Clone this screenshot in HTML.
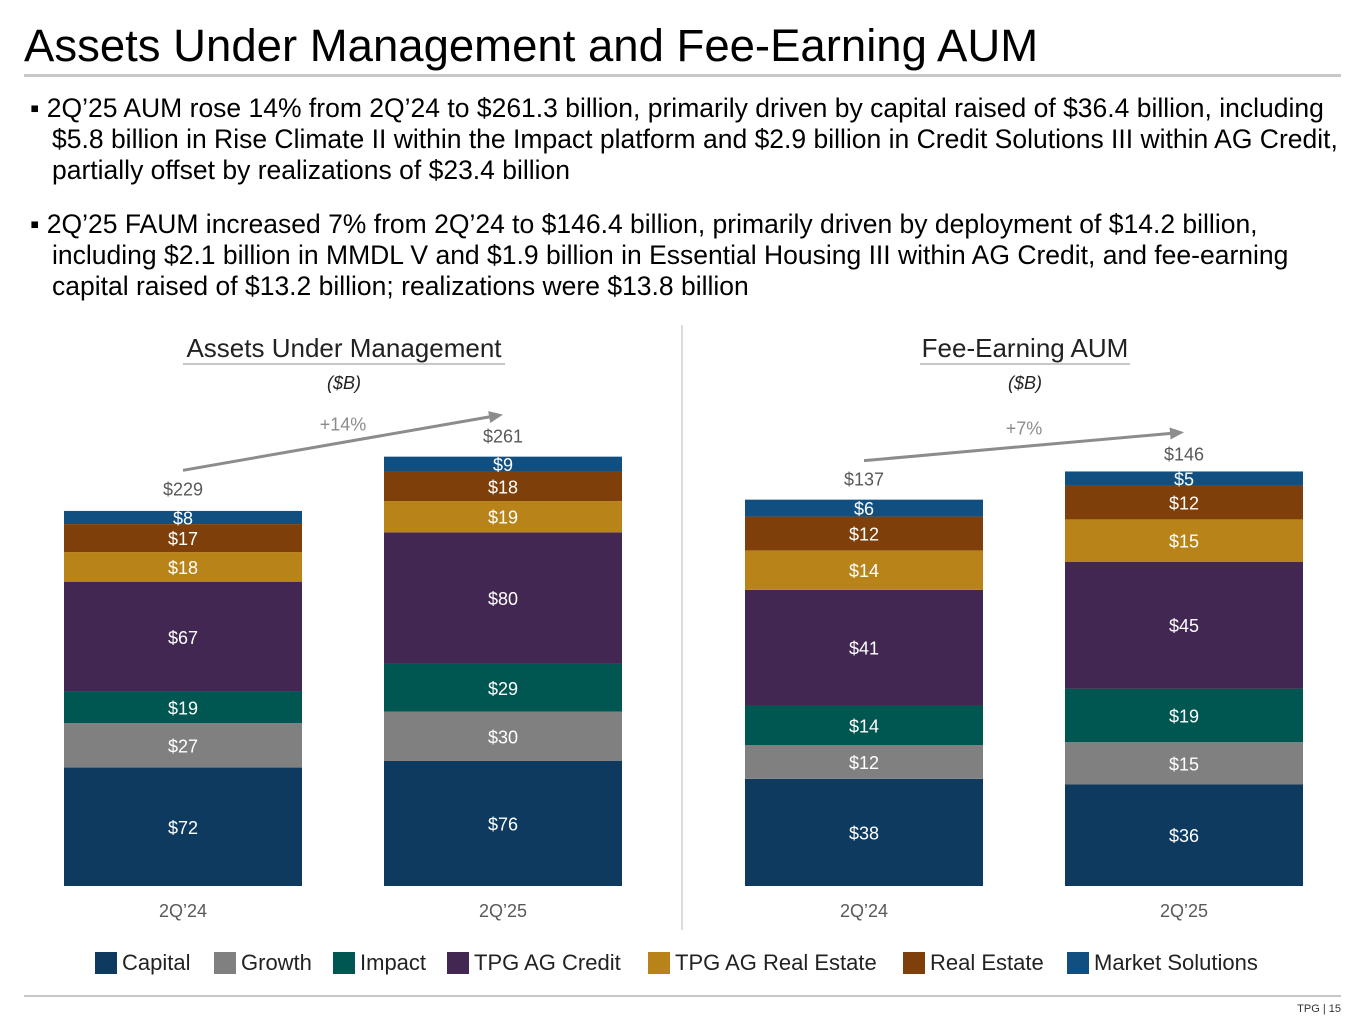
<!DOCTYPE html>
<html><head><meta charset="utf-8"><style>
body{margin:0;width:1365px;height:1024px;background:#fff;font-family:"Liberation Sans",Arial,sans-serif;position:relative;overflow:hidden;color:#000}
.t{position:absolute;white-space:nowrap}
</style></head><body>
<div class="t" style="left:24px;top:20px;font-size:45.5px;color:#000">Assets Under Management and Fee-Earning AUM</div>
<div style="position:absolute;left:24px;top:74px;width:1317px;height:3px;background:#c8c8c8"></div>
<div style="position:absolute;left:30px;top:93px;width:1340px;font-size:26.5px;line-height:31px;white-space:nowrap">
<div style="padding-left:22px;text-indent:-22px">▪ 2Q’25 AUM rose 14% from 2Q’24 to $261.3 billion, primarily driven by capital raised of $36.4 billion, including<br>$5.8 billion in Rise Climate II within the Impact platform and $2.9 billion in Credit Solutions III within AG Credit,<br>partially offset by realizations of $23.4 billion</div>
<div style="padding-left:22px;text-indent:-22px;margin-top:23px">▪ 2Q’25 FAUM increased 7% from 2Q’24 to $146.4 billion, primarily driven by deployment of $14.2 billion,<br>including $2.1 billion in MMDL V and $1.9 billion in Essential Housing III within AG Credit, and fee-earning<br>capital raised of $13.2 billion; realizations were $13.8 billion</div>
</div>
<svg id="chart" width="1365" height="1024" style="position:absolute;left:0;top:0" font-family="Liberation Sans, Arial, sans-serif"></svg>
<div style="position:absolute;left:24px;top:995px;width:1317px;height:2px;background:#c8c8c8"></div>
<div class="t" style="right:24px;top:1003px;font-size:11px;color:#333">TPG | 15</div>
<script>
const series=["Capital","Growth","Impact","TPG AG Credit","TPG AG Real Estate","Real Estate","Market Solutions"];
const periods=["2Q’24","2Q’25"];
const aumValues=[[72,27,19,67,18,17,8],[76,30,29,80,19,18,9]];
const aumTotals=[229,261];
const faumValues=[[38,12,14,41,14,12,6],[36,15,19,45,15,12,5]];
const faumTotals=[137,146];
const colors=["#0d3a5e","#808080","#005651","#432753","#b8841a","#7e3f0a","#104f7f"];
const svg=document.getElementById('chart');
const NS="http://www.w3.org/2000/svg";
function mk(tag,attrs,txt){const e=document.createElementNS(NS,tag);for(const k in attrs)e.setAttribute(k,attrs[k]);if(txt!==undefined)e.textContent=txt;svg.appendChild(e);return e;}
function drawChart(name,xs,scale,values,totals,title,titleX,growth){
  const base=886,w=238;
  const y=v=>base-v*scale;
  const t=mk('text',{x:titleX,y:357,'font-size':26,'text-anchor':'middle',fill:'#222'},title);
  
  
  const tw=title.length*14;
  const u=mk('rect',{x:titleX-tw/2,y:363,width:tw,height:2,fill:'#c8c8c8'});
  
  
  const s=mk('text',{x:titleX,y:389,'font-size':18,'font-style':'italic','text-anchor':'middle',fill:'#222'},'($B)');
  
  
  values.forEach((vals,i)=>{
    let cum=0;
    vals.forEach((v,j)=>{
      const r=mk('rect',{x:xs[i],y:y(cum+v),width:w,height:v*scale,fill:colors[j]});
      
      
      const lt=mk('text',{x:xs[i]+w/2,y:y(cum+v/2)+7,'font-size':18,'text-anchor':'middle',fill:'#fff'},'$'+v);
      
      
      cum+=v;
    });
    const tot=mk('text',{x:xs[i]+w/2,y:y(totals[i])-14,'font-size':18,'text-anchor':'middle',fill:'#595959'},'$'+totals[i]);
    
    
    const xl=mk('text',{x:xs[i]+w/2,y:917,'font-size':18,'text-anchor':'middle',fill:'#595959'},periods[i]);
    
    
  });
  const x1=xs[0]+119,x2=xs[1]+119;
  const y1=y(totals[0])-39,y2=y(totals[1])-42;
  const ln=mk('line',{x1:x1,y1:y1,x2:x2-10,y2:y2+1.8*((y1-y2)/(x2-x1))*5,stroke:'#8c8c8c','stroke-width':3});
  
  
  const ang=Math.atan2(y2-y1,x2-x1);
  const ah=mk('polygon',{points:`${x2},${y2} ${x2-14*Math.cos(ang)+6*Math.sin(ang)},${y2-14*Math.sin(ang)-6*Math.cos(ang)} ${x2-14*Math.cos(ang)-6*Math.sin(ang)},${y2-14*Math.sin(ang)+6*Math.cos(ang)}`,fill:'#8c8c8c'});
  
  
  const g=mk('text',{x:(x1+x2)/2,y:(y1+y2)/2-12,'font-size':18,'text-anchor':'middle',fill:'#8c8c8c'},growth);
  
  
}
drawChart('aum',[64,384],1.645,aumValues,aumTotals,'Assets Under Management',344,'+14%');
drawChart('faum',[745,1065],2.82,faumValues,faumTotals,'Fee-Earning AUM',1025,'+7%');
const dv=mk('line',{x1:682,y1:325,x2:682,y2:930,stroke:'#d0d0d0','stroke-width':1.5});


const legX=[95,214,333,447,648,903,1067];
series.forEach((s,j)=>{
  const r=mk('rect',{x:legX[j],y:952,width:22,height:22,fill:colors[j]});
  
  
  const t=mk('text',{x:legX[j]+27,y:970,'font-size':22,fill:'#222'},s);
  
  
});
</script>
</body></html>
